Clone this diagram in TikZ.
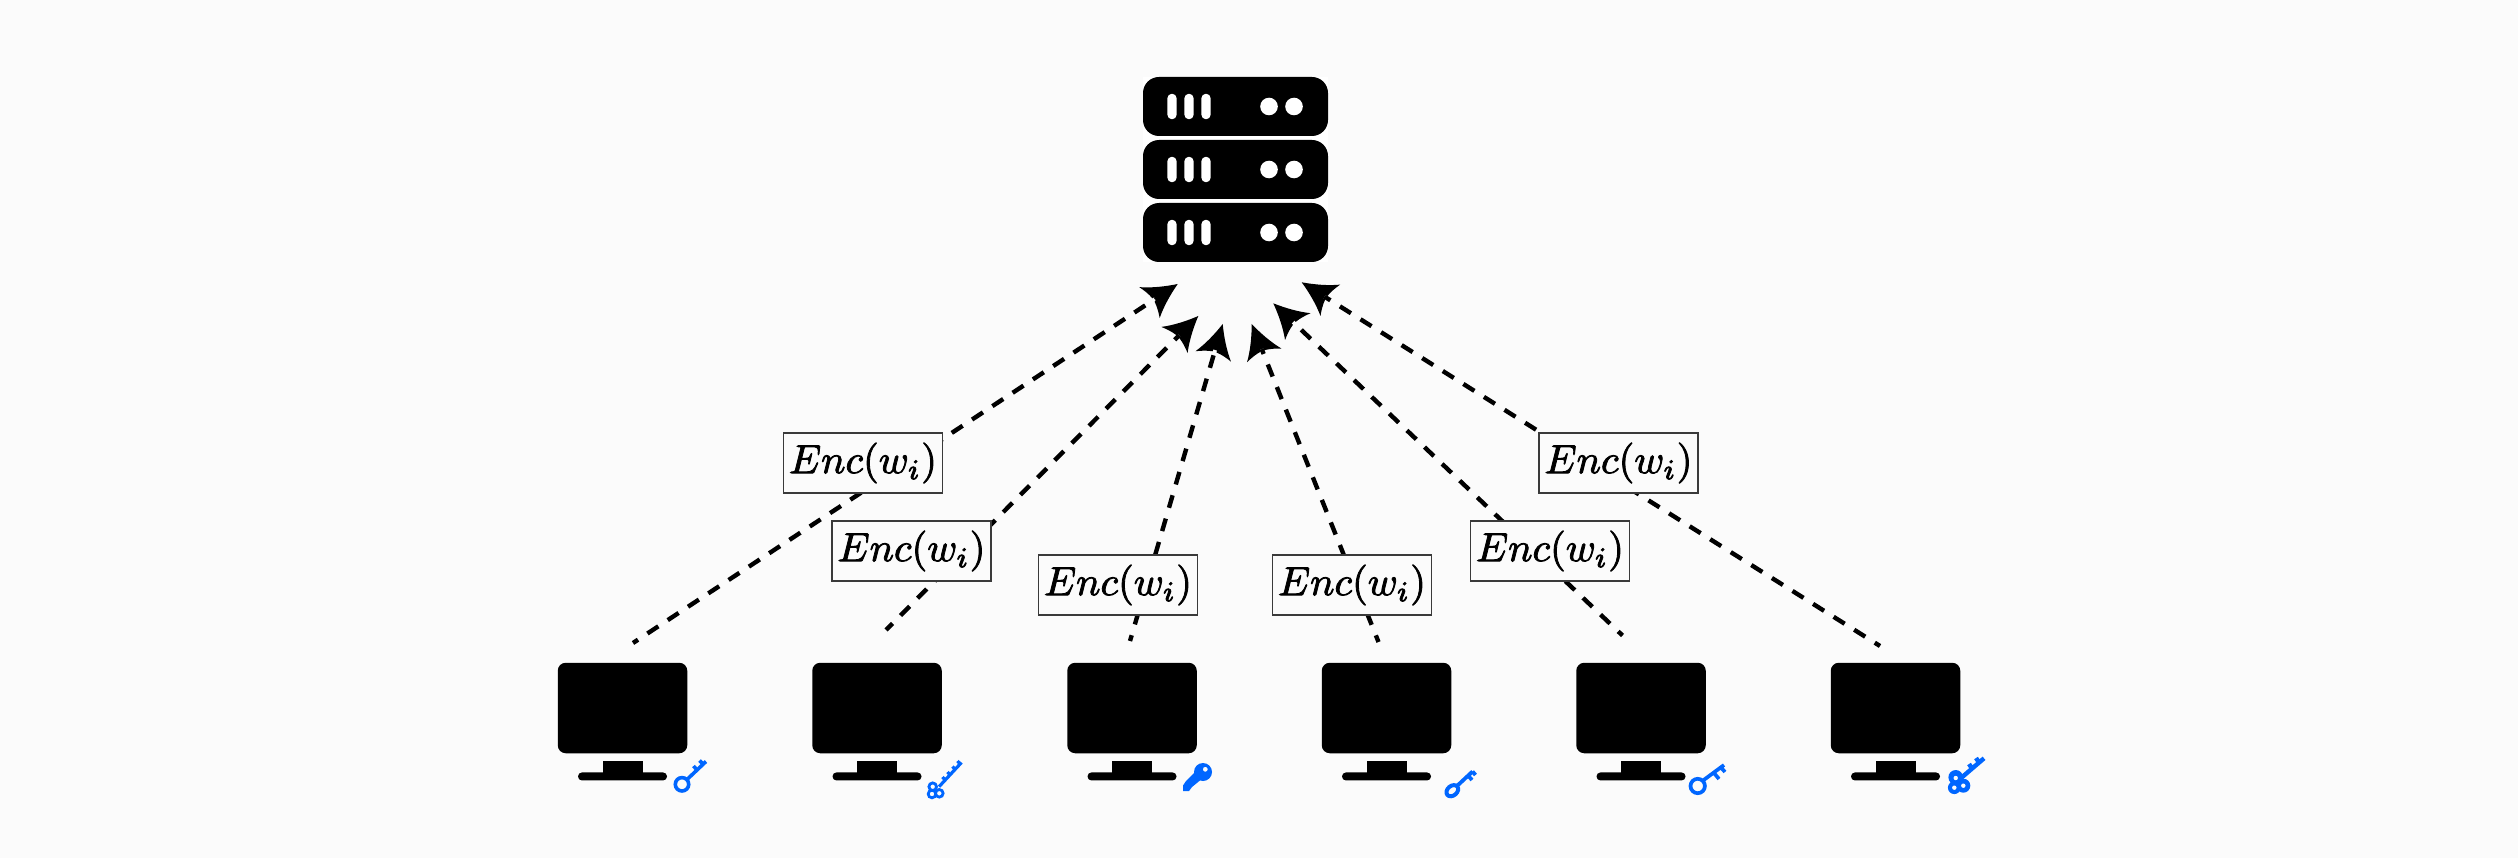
\documentclass[tikz,border=0pt]{standalone}
\usetikzlibrary{arrows.meta}
\definecolor{pagebg}{HTML}{FBFBFB}
\definecolor{keyblue}{HTML}{0066FF}
\definecolor{boxline}{HTML}{3A3A3A}
\newcommand{\enctext}{\special{pdf:code 2 Tr 0.2 w}$Enc(w_i)$\special{pdf:code 0 Tr}}
\pgfdeclarearrow{
  name=BarbTip,
  setup code={
    \pgfarrowssettipend{0pt}
    \pgfarrowssetlineend{-27pt}
    \pgfarrowssetvisualbackend{-27pt}
    \pgfarrowssetbackend{-33.8pt}
  },
  drawing code={
    \pgfsetfillcolor{black}
    \pgfpathmoveto{\pgfqpoint{0pt}{0pt}}
    \pgfpathcurveto{\pgfqpoint{-12pt}{4.8pt}}{\pgfqpoint{-24pt}{11pt}}{\pgfqpoint{-33.8pt}{18.5pt}}
    \pgfpathcurveto{\pgfqpoint{-31.5pt}{13pt}}{\pgfqpoint{-29.8pt}{8pt}}{\pgfqpoint{-29pt}{2pt}}
    \pgfpathlineto{\pgfqpoint{-27pt}{2pt}}
    \pgfpathlineto{\pgfqpoint{-27pt}{-2pt}}
    \pgfpathlineto{\pgfqpoint{-29pt}{-2pt}}
    \pgfpathcurveto{\pgfqpoint{-29.8pt}{-8pt}}{\pgfqpoint{-31.5pt}{-13pt}}{\pgfqpoint{-33.8pt}{-18.5pt}}
    \pgfpathcurveto{\pgfqpoint{-24pt}{-11pt}}{\pgfqpoint{-12pt}{-4.8pt}}{\pgfqpoint{0pt}{0pt}}
    \pgfpathclose
    \pgfusepathqfill
  }
}
\tikzset{
  x=1pt,y=-1pt,
  rack/.style={draw=none,fill=black,rounded corners=16pt,minimum width=185pt,minimum height=59pt,inner sep=0pt},
  screen/.style={draw=none,fill=black,rounded corners=8pt,minimum width=129.5pt,minimum height=90.5pt,inner sep=0pt},
  slot/.style={fill=white,rounded corners=4.4pt},
  led/.style={fill=white},
  upload/.style={line width=4.4pt,-{BarbTip}},
  enc/.style={draw=boxline,line width=1.1pt,fill=pagebg,scale=4.05,minimum width=39.26pt,minimum height=14.81pt,inner sep=0pt},
  keyline/.style={draw=keyblue,line width=3.6pt},
  keyfill/.style={fill=keyblue}
}
\begin{document}
\begin{tikzpicture}
\useasboundingbox (0,0) rectangle (2518,858);
\fill[pagebg] (0,0) rectangle (2518,858);
% server
\fill[white] (1143,77) rectangle (1328,262);
\node[rack] (rackA) at (1235.5,106.5) {};
\node[rack] (rackB) at (1235.5,169.5) {};
\node[rack] (rackC) at (1235.5,232.5) {};
\foreach \r in {rackA,rackB,rackC}{
  \foreach \dx in {-63.5,-46.5,-29.5}
    \fill[slot] ([xshift=\dx*1pt-4.6pt,yshift=-12.7pt]\r.center) rectangle ([xshift=\dx*1pt+4.6pt,yshift=12.7pt]\r.center);
  \foreach \dx in {33.5,58.5}
    \fill[led] ([xshift=\dx*1pt]\r.center) circle (8.8pt);
}
% monitors
\foreach \i/\cx in {1/622.5,2/877,3/1132,4/1386.5,5/1641,6/1895.5}{
  \node[screen] (pc\i) at (\cx,708) {};
  \fill[black] ([xshift=-20pt,yshift=-8pt]pc\i.south) rectangle ([xshift=20pt,yshift=-20pt]pc\i.south);
  \fill[black,rounded corners=3.9pt] ([xshift=-44.5pt,yshift=-19pt]pc\i.south) rectangle ([xshift=44.5pt,yshift=-27pt]pc\i.south);
}
% connector ends
\coordinate (s1) at (633,643);     \coordinate (t1) at (1177.7,284);
\coordinate (s2) at (886,630);     \coordinate (t2) at (1198.3,316);
\coordinate (s3) at (1130,641);    \coordinate (t3) at (1222.7,324);
\coordinate (s4) at (1378.5,642);  \coordinate (t4) at (1251.7,324);
\coordinate (s5) at (1622.5,635.5);\coordinate (t5) at (1273.3,303.3);
\coordinate (s6) at (1880,646);    \coordinate (t6) at (1301.7,282.3);
\foreach \i/\ph in {1/7,2/3.8,3/7,4/5.8,5/7,6/6.8}
  \draw[upload,dash pattern=on 13pt off 11.3pt,dash phase=\ph pt] (s\i) -- (t\i);
% labels
\node[enc] (lab1) at (863,463) {\enctext};
\node[enc] (lab2) at (911.5,551) {\enctext};
\node[enc] (lab3) at (1118,585) {\enctext};
\node[enc] (lab4) at (1352,585) {\enctext};
\node[enc] (lab5) at (1550,551) {\enctext};
\node[enc] (lab6) at (1618.5,463) {\enctext};
% key 1
\draw[keyline] (682,784.3) circle (6.7pt);
\draw[keyline] (687,779.5) -- (706,761.5) (697,770) -- (693.5,766) (703,764) -- (699.5,760.5);
% key 2
\draw[keyline,line width=2.8pt] (932.7,786.7) circle (3.8pt) (932,794) circle (3.8pt) (939.3,793.3) circle (3.8pt);
\draw[keyline,line width=3.2pt] (939,786.7) -- (961.5,762.5) (945,780) -- (942.5,777) (950,775) -- (947.5,772) (955,769.5) -- (952.5,766.5) (960,764) -- (957.5,761);
% key 3
\fill[keyfill,even odd rule] (1203,772) circle (9pt) (1205.3,769.3) circle (2.5pt);
\fill[keyfill] (1197,770) -- (1186,781) -- (1183,785.5) -- (1183,791) -- (1189,791) -- (1192,787) -- (1203,778) -- cycle;
% key 4
\draw[keyline,line width=4pt,rotate around={40:(1452.3,790.7)}] (1452.3,790.7) ellipse (6.5pt and 4.8pt);
\draw[keyline,line width=3.8pt] (1457.5,785.5) -- (1472.5,771.5) (1468,775.5) -- (1472,780) (1472.5,771.5) -- (1475.5,775);
% key 5
\draw[keyline,line width=3.7pt] (1697.7,786) circle (7.2pt);
\draw[keyline,line width=3.7pt] (1703,780.5) -- (1724,765) (1714,773) -- (1719,779) (1721,767.5) -- (1725,772);
% key 6
\fill[keyfill] (1955.7,777.3) circle (7.3pt) (1954.3,787.7) circle (6.4pt) (1963.3,785.7) circle (7pt);
\fill[pagebg] (1955.7,778) circle (2.2pt) (1954.3,787.7) circle (2.2pt) (1963.3,785.7) circle (2.2pt);
\draw[keyline,line width=4.4pt] (1960.7,778.3) -- (1984,758.3) (1972,768.5) -- (1969,764) (1979,762.5) -- (1976,758);
\end{tikzpicture}
\end{document}
